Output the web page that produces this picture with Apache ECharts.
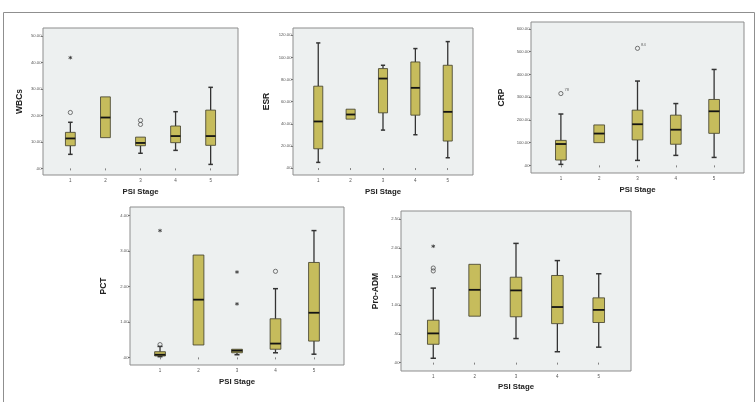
<!DOCTYPE html>
<html>
<head>
<meta charset="utf-8">
<script src="https://cdn.jsdelivr.net/npm/echarts@6/dist/echarts.min.js"></script>
<style>
html,body{margin:0;padding:0;background:#fff;}
#chart{width:756px;height:402px;}
</style>
</head>
<body>
<div id="chart"></div>
<script>
// ---- data (min, Q1, median, Q3, max) per PSI stage ----
const stages = [1, 2, 3, 4, 5];
const stageLabels = ['1', '2', '3', '4', '5'];

const wbcStats = [[5.3, 8.55, 11.3, 13.6, 17.4], [11.6, 11.6, 19.2, 27.0, 27.0], [5.7, 8.55, 9.6, 11.8, 11.8], [6.8, 9.7, 12.2, 16.0, 21.4], [1.5, 8.7, 12.2, 22.0, 30.6]];
const wbcCircles = [[1, 21.1], [3, 18.1], [3, 16.6]];
const wbcStars = [[1, 41.8]];
const wbcTicks = [0, 10, 20, 30, 40, 50];

const esrStats = [[5.1, 17.4, 42.1, 74.0, 113.1], [44.2, 44.2, 48.4, 53.2, 53.2], [34.3, 49.9, 80.9, 89.9, 92.9], [30.1, 47.8, 72.5, 95.9, 108.0], [9.3, 24.4, 50.8, 92.9, 114.3]];
const esrCircles = [];
const esrStars = [];
const esrTicks = [0, 20, 40, 60, 80, 100, 120];

const crpStats = [[4.4, 23.5, 94, 110, 226], [100, 100, 140, 178, 178], [22, 112, 181, 243, 371], [44, 93, 157, 221, 272], [35, 141, 238, 290, 422]];
const crpCircles = [[1, 316], [3, 515]];
const crpCircleIds = ['78', '84'];
const crpStars = [];
const crpTicks = [0, 100, 200, 300, 400, 500, 600];

const pctStats = [[0.02, 0.04, 0.075, 0.16, 0.31], [0.35, 0.35, 1.63, 2.89, 2.89], [0.075, 0.13, 0.19, 0.23, 0.23], [0.13, 0.23, 0.39, 1.09, 1.94], [0.09, 0.46, 1.26, 2.68, 3.58]];
const pctCircles = [[1, 0.36], [4, 2.43]];
const pctStars = [[1, 3.58], [3, 2.41], [3, 1.51]];
const pctTicks = [0, 1, 2, 3, 4];

const admStats = [[0.076, 0.32, 0.51, 0.74, 1.30], [0.81, 0.81, 1.27, 1.715, 1.715], [0.42, 0.80, 1.26, 1.49, 2.08], [0.19, 0.68, 0.97, 1.52, 1.78], [0.27, 0.70, 0.92, 1.13, 1.55]];
const admCircles = [[1, 1.65], [1, 1.60]];
const admStars = [[1, 2.03]];
const admTicks = [0, 0.5, 1, 1.5, 2, 2.5];

const panelNames = ['WBCs', 'ESR', 'CRP', 'PCT', 'Pro-ADM'];
const xName = 'PSI Stage';

// ---- layout / styling ----
const FONT = '"Liberation Sans Narrow", "Liberation Sans", Arial, sans-serif';
const panels = [
  {name: panelNames[0], stats: wbcStats, circles: wbcCircles, ids: [], stars: wbcStars, ticks: wbcTicks, ymin: -2.5, ymax: 53, grid: {left: 43, top: 28, width: 195, height: 147}, yGap: 19, xGap: 13},
  {name: panelNames[1], stats: esrStats, circles: esrCircles, ids: [], stars: esrStars, ticks: esrTicks, ymin: -6.3, ymax: 126.6, grid: {left: 293, top: 28, width: 180, height: 147}, yGap: 22, xGap: 13},
  {name: panelNames[2], stats: crpStats, circles: crpCircles, ids: crpCircleIds, stars: crpStars, ticks: crpTicks, ymin: -33.5, ymax: 630.8, grid: {left: 531, top: 22, width: 213, height: 151}, yGap: 25, xGap: 13},
  {name: panelNames[3], stats: pctStats, circles: pctCircles, ids: [], stars: pctStars, ticks: pctTicks, ymin: -0.215, ymax: 4.246, grid: {left: 130, top: 207, width: 214, height: 158}, yGap: 22, xGap: 13},
  {name: panelNames[4], stats: admStats, circles: admCircles, ids: [], stars: admStars, ticks: admTicks, ymin: -0.146, ymax: 2.645, grid: {left: 401, top: 211, width: 230, height: 160}, yGap: 21, xGap: 11.5}
];

function spssFmt(v) {
  let s = v.toFixed(2);
  if (s.startsWith('0.')) s = s.slice(1);
  return s;
}

const BOX_FILL = '#c6bc5c';
const BOX_EDGE = '#3d3b28';
const WHISKER = '#333333';

function renderBox(params, api) {
  const x = api.value(0);
  const lo = api.value(1), q1 = api.value(2), md = api.value(3), q3 = api.value(4), hi = api.value(5);
  const w = api.size([0.28, 0])[0];
  const cw = api.size([0.13, 0])[0];
  const pLo = api.coord([x, lo]), pQ1 = api.coord([x, q1]), pMd = api.coord([x, md]), pQ3 = api.coord([x, q3]), pHi = api.coord([x, hi]);
  const cx = pMd[0];
  const children = [];
  const ls = {stroke: WHISKER, lineWidth: 1.3};
  if (hi > q3) {
    children.push({type: 'line', shape: {x1: cx, y1: pHi[1], x2: cx, y2: pQ3[1]}, style: ls});
    children.push({type: 'line', shape: {x1: cx - cw / 2, y1: pHi[1], x2: cx + cw / 2, y2: pHi[1]}, style: {stroke: WHISKER, lineWidth: 1.5}});
  }
  if (lo < q1) {
    children.push({type: 'line', shape: {x1: cx, y1: pLo[1], x2: cx, y2: pQ1[1]}, style: ls});
    children.push({type: 'line', shape: {x1: cx - cw / 2, y1: pLo[1], x2: cx + cw / 2, y2: pLo[1]}, style: {stroke: WHISKER, lineWidth: 1.5}});
  }
  children.push({type: 'rect', shape: {x: cx - w / 2, y: pQ3[1], width: w, height: pQ1[1] - pQ3[1]}, style: {fill: BOX_FILL, stroke: BOX_EDGE, lineWidth: 0.8}});
  children.push({type: 'line', shape: {x1: cx - w / 2, y1: pMd[1], x2: cx + w / 2, y2: pMd[1]}, style: {stroke: '#141414', lineWidth: 1.8}});
  return {type: 'group', children: children};
}

const grids = [], xAxes = [], yAxes = [], series = [];
panels.forEach((p, i) => {
  grids.push(Object.assign({show: true, backgroundColor: '#edf0f0', borderColor: '#8d8d8d', borderWidth: 1}, p.grid));
  xAxes.push({
    type: 'value', gridIndex: i, min: 0.22, max: 5.78,
    name: xName, nameLocation: 'middle', nameGap: p.xGap,
    nameTextStyle: {fontFamily: FONT, fontWeight: 'bold', fontSize: 7.8, color: '#222'},
    axisLine: {show: false},
    axisTick: {show: true, customValues: stages, length: 2, lineStyle: {color: '#666', width: 0.8}},
    axisLabel: {customValues: stages, formatter: v => stageLabels[stages.indexOf(v)] || '', fontSize: 4.5, color: '#555', margin: 3, fontFamily: FONT},
    splitLine: {show: false}
  });
  yAxes.push({
    type: 'value', gridIndex: i, min: p.ymin, max: p.ymax,
    name: p.name, nameLocation: 'middle', nameGap: p.yGap, nameRotate: 90,
    nameTextStyle: {fontFamily: FONT, fontWeight: 'bold', fontSize: 8.5, color: '#222'},
    axisLine: {show: false},
    axisTick: {show: true, customValues: p.ticks, length: 2, lineStyle: {color: '#666', width: 0.8}},
    axisLabel: {customValues: p.ticks, formatter: spssFmt, fontSize: 4.2, color: '#555', margin: 1.5, fontFamily: FONT},
    splitLine: {show: false}
  });
  series.push({
    type: 'custom', xAxisIndex: i, yAxisIndex: i,
    data: p.stats.map((s, k) => [stages[k]].concat(s)),
    encode: {x: 0, y: [1, 2, 3, 4, 5]},
    renderItem: renderBox, silent: true, z: 2
  });
  series.push({
    type: 'scatter', xAxisIndex: i, yAxisIndex: i,
    data: p.circles.map((c, k) => ({value: c, name: p.ids[k] || ''})),
    symbol: 'circle', symbolSize: 4.2,
    itemStyle: {color: 'rgba(0,0,0,0)', borderColor: '#444', borderWidth: 0.9},
    label: {show: true, position: 'right', distance: 1, offset: [0, -3.5], formatter: d => d.name, fontSize: 4.2, color: '#444', fontFamily: FONT},
    z: 3
  });
  series.push({
    type: 'scatter', xAxisIndex: i, yAxisIndex: i,
    data: p.stars,
    symbol: 'path://M5,0L5,10M0.7,2.5L9.3,7.5M0.7,7.5L9.3,2.5', symbolSize: 3.6,
    itemStyle: {color: 'rgba(0,0,0,0)', borderColor: '#333', borderWidth: 1},
    z: 3
  });
});

const chart = echarts.init(document.getElementById('chart'), null, {renderer: 'canvas'});
chart.setOption({
  animation: false,
  backgroundColor: '#ffffff',
  graphic: [{type: 'rect', shape: {x: 3.5, y: 12.5, width: 751, height: 400}, style: {fill: 'none', stroke: '#8f8f8f', lineWidth: 1}, silent: true}],
  grid: grids,
  xAxis: xAxes,
  yAxis: yAxes,
  series: series
});
</script>
</body>
</html>
